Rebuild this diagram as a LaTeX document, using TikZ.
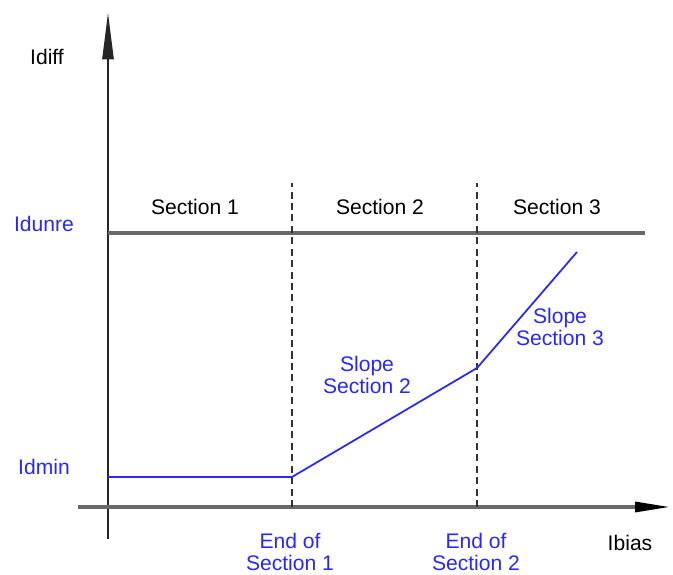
\documentclass[tikz,border=0pt]{standalone}
\usepackage{fontspec}
\setmainfont{Liberation Sans}
\usepackage{tikz}
\usetikzlibrary{positioning}
\usetikzlibrary{arrows.meta}
\usetikzlibrary{calc}

\definecolor{curveblue}{RGB}{40,40,250}
\definecolor{axisgray}{RGB}{105,105,105}

\tikzset{
  lbl/.style={font=\fontsize{12}{13}\selectfont, align=center, inner sep=1pt},
  bluelbl/.style={lbl, text=curveblue},
  sectline/.style={line width=1pt, black!80, dash pattern=on 4pt off 2.5pt},
}

\begin{document}
\begin{tikzpicture}

	\useasboundingbox (0,0) rectangle (13.46,11.5);

	\def\ox{2.16};
	\def\oy{1.36};
	\def\top{7.84};
	\def\unre{6.84};

	% axes
	\coordinate (ybot) at (\ox,0.72);
	\coordinate (ytop) at (\ox,11.26);
	\coordinate (xleft) at (1.56,\oy);
	\coordinate (xright) at (13.4,\oy);
	\draw[line width=1.6pt, black!85, -{Triangle[length=0.95cm, width=0.22cm]}] (ybot) -- (ytop);
	\draw[line width=1.8pt, axisgray, -{Triangle[length=0.7cm, width=0.2cm, black]}] (xleft) -- (xright);

	% Idunre level
	\coordinate (u0) at (\ox,\unre);
	\coordinate (u1) at (12.9,\unre);
	\draw[line width=1.8pt, axisgray] (u0) -- (u1);

	% section borders
	\foreach \x/\name in {5.84/e1, 9.54/e2} {
		\coordinate (\name b) at (\x,\oy);
		\coordinate (\name t) at (\x,\top);
		\draw[sectline] (\name b) -- (\name t);
	}

	% characteristic
	\coordinate (p0) at (\ox,1.96);
	\coordinate (p1) at (5.84,1.96);
	\coordinate (p2) at (9.54,4.14);
	\coordinate (p3) at (11.54,6.46);
	\draw[line width=1pt, curveblue] (p0) -- (p1) -- (p2) -- (p3);

	% labels
	\node[lbl] (idiff) at (0.94,10.36) {Idiff};
	\node[lbl] (ibias) at (12.6,0.64) {Ibias};
	\node[bluelbl] (idunre) at (0.88,7.02) {Idunre};
	\node[bluelbl] (idmin) at (0.88,2.16) {Idmin};

	\foreach \x/\num in {3.9/1, 7.6/2, 11.14/3} {
		\node[lbl] (sec\num) at (\x,7.36) {Section \num};
	}

	\node[bluelbl] (slope2) at (7.34,4.0) {Slope\\Section 2};
	\node[bluelbl] (slope3) at (11.2,4.96) {Slope\\Section 3};
	\node[bluelbl] (end1) at (5.8,0.46) {End of\\Section 1};
	\node[bluelbl] (end2) at (9.52,0.46) {End of\\Section 2};

\end{tikzpicture}
\end{document}
